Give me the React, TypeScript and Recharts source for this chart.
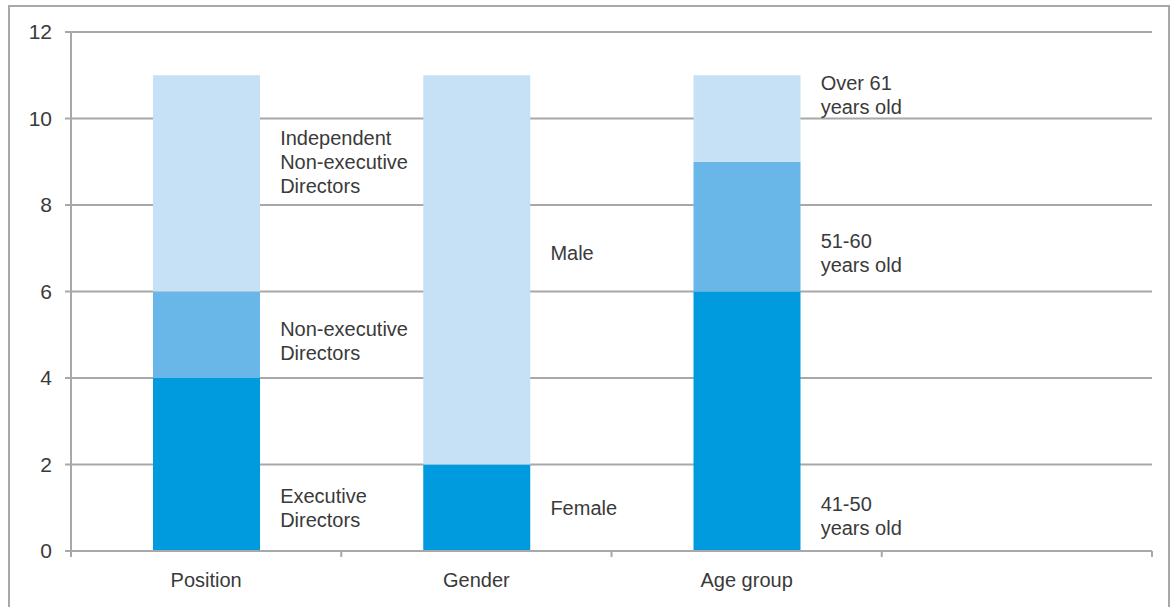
import { BarChart, Bar, XAxis, YAxis, CartesianGrid, ReferenceDot } from 'recharts';

const categories = ['Position', 'Gender', 'Age group', ''];
const darkValues = [4, 2, 6, 0];
const midValues = [2, 0, 3, 0];
const lightValues = [5, 9, 2, 0];
const yTicks = [0, 2, 4, 6, 8, 10, 12];

// segment captions, anchored in value units next to each bar
const annotations = [
  { category: 'Position', at: 1, lines: ['Executive', 'Directors'] },
  { category: 'Position', at: 4.85, lines: ['Non-executive', 'Directors'] },
  { category: 'Position', at: 9, lines: ['Independent', 'Non-executive', 'Directors'] },
  { category: 'Gender', at: 1, lines: ['Female'] },
  { category: 'Gender', at: 6.9, lines: ['Male'] },
  { category: 'Age group', at: 0.8, lines: ['41-50', 'years old'] },
  { category: 'Age group', at: 6.9, lines: ['51-60', 'years old'] },
  { category: 'Age group', at: 10.55, lines: ['Over 61', 'years old'] },
];

const data = categories.map((name, i) => ({
  name,
  dark: darkValues[i],
  mid: midValues[i],
  light: lightValues[i],
}));

const FONT = '"Liberation Sans", Arial, sans-serif';
const TEXT = '#3a3a3a';
const FS = 20;
const GRID = '#a8a8a8';
const CHART_W = 1170;
const CHART_H = 607;
const MARGIN = { top: 32, right: 18, left: 0, bottom: 0 };
const Y_W = 71;
const BAND = (CHART_W - MARGIN.right - Y_W) / categories.length;

function CategoryTick(props: any) {
  const { x, y, payload, index } = props;
  const left = x - BAND / 2;
  return (
    <g>
      <line x1={left} y1={y} x2={left} y2={y + 6} stroke={GRID} strokeWidth={2} />
      {index === categories.length - 1 && (
        <line x1={x + BAND / 2} y1={y} x2={x + BAND / 2} y2={y + 6} stroke={GRID} strokeWidth={2} />
      )}
      <text x={x} y={y + 36} textAnchor="middle" fill={TEXT} fontSize={FS} fontFamily={FONT}>
        {payload.value}
      </text>
    </g>
  );
}

function Caption(lines: string[]) {
  return (p: any) => {
    const top = p.cy - ((lines.length - 1) * 24) / 2;
    return (
      <g>
        {lines.map((l, i) => (
          <text
            key={i}
            x={p.cx + 74}
            y={top + i * 24}
            dominantBaseline="central"
            fill={TEXT}
            fontSize={FS}
            fontFamily={FONT}
          >
            {l}
          </text>
        ))}
      </g>
    );
  };
}

export default function App() {
  return (
    <div style={{ position: 'absolute', left: 0, top: 0, width: CHART_W, height: CHART_H, background: '#fff', overflow: 'hidden' }}>
      <div
        style={{
          position: 'absolute',
          left: 8,
          top: 5,
          width: 1158,
          height: 620,
          border: `2px solid ${GRID}`,
        }}
      />
      <div style={{ position: 'absolute', left: 0, top: 0 }}>
        <BarChart width={CHART_W} height={CHART_H} data={data} margin={MARGIN} barSize={107}>
          <CartesianGrid vertical={false} stroke={GRID} strokeWidth={2} />
          <XAxis
            dataKey="name"
            height={56}
            stroke={GRID}
            strokeWidth={2}
            tickLine={false}
            tickSize={0}
            tickMargin={0}
            interval={0}
            tick={<CategoryTick />}
          />
          <YAxis
            width={Y_W}
            domain={[0, 12]}
            ticks={yTicks}
            interval={0}
            stroke={GRID}
            strokeWidth={2}
            tickSize={6}
            tickMargin={13}
            tick={{ fill: TEXT, fontSize: FS + 1, fontFamily: FONT }}
          />
          <Bar dataKey="dark" stackId="a" fill="#009bde" isAnimationActive={false} />
          <Bar dataKey="mid" stackId="a" fill="#68b7e8" isAnimationActive={false} />
          <Bar dataKey="light" stackId="a" fill="#c6e1f5" isAnimationActive={false} />
          {annotations.map((a, i) => (
            <ReferenceDot key={i} x={a.category} y={a.at} r={0} shape={Caption(a.lines)} />
          ))}
        </BarChart>
      </div>
    </div>
  );
}
